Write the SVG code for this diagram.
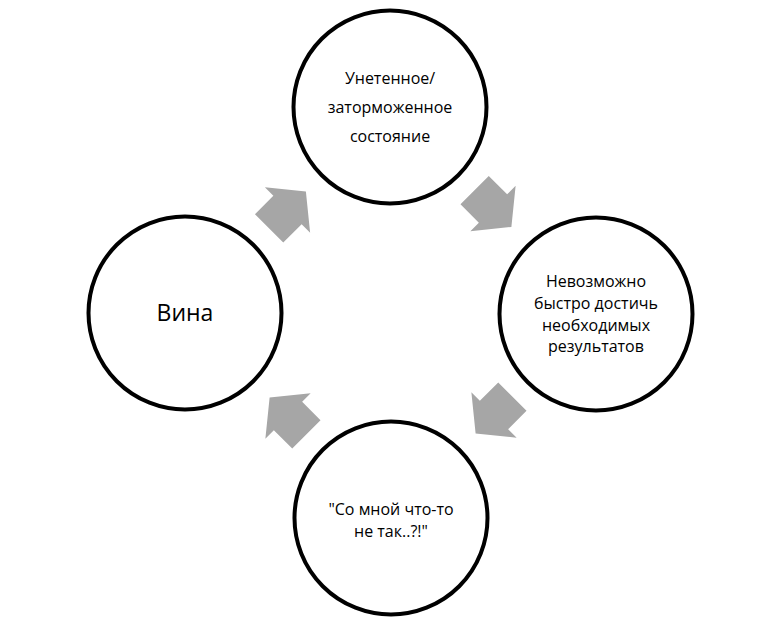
<svg xmlns="http://www.w3.org/2000/svg" width="764" height="636" viewBox="0 0 764 636">
<defs>
<style>
.node{fill:#FFFFFF;stroke:#000000;stroke-width:4}
.t{font-family:"Open Sans","Noto Sans","DejaVu Sans",sans-serif;font-size:16px;fill:#000000;text-anchor:middle}
.big{font-size:23px}
.arr{fill:#A6A6A6;stroke:none}
</style>
<path id="arrowShape" d="M -26,-20 L 0,-20 L 0,-32 L 26,0 L 0,32 L 0,20 L -26,20 Z"/>
</defs>
<rect x="0" y="0" width="764" height="636" fill="#FFFFFF"/>
<g id="connectors">
<use href="#arrowShape" class="arr" transform="translate(493,208.5) rotate(45)"/>
<use href="#arrowShape" class="arr" transform="translate(494,415) rotate(135)"/>
<use href="#arrowShape" class="arr" transform="translate(288,416) rotate(-135)"/>
<use href="#arrowShape" class="arr" transform="translate(287.5,210) rotate(-45)"/>
</g>
<g id="node-top">
<circle class="node" cx="390" cy="107" r="96.5"/>
<text class="t" x="390" y="84">Унетенное/</text>
<text class="t" x="390" y="113">заторможенное</text>
<text class="t" x="390" y="142">состояние</text>
</g>
<g id="node-right">
<circle class="node" cx="596" cy="314" r="96.5"/>
<text class="t" x="596" y="287">Невозможно</text>
<text class="t" x="596" y="309">быстро достичь</text>
<text class="t" x="596" y="331">необходимых</text>
<text class="t" x="596" y="352">результатов</text>
</g>
<g id="node-bottom">
<circle class="node" cx="391" cy="518" r="96.5"/>
<text class="t" x="391" y="515">"Со мной что-то</text>
<text class="t" x="391" y="537">не так..?!"</text>
</g>
<g id="node-left">
<circle class="node" cx="185" cy="313" r="96.5"/>
<text class="t big" x="185" y="321">Вина</text>
</g>
</svg>
